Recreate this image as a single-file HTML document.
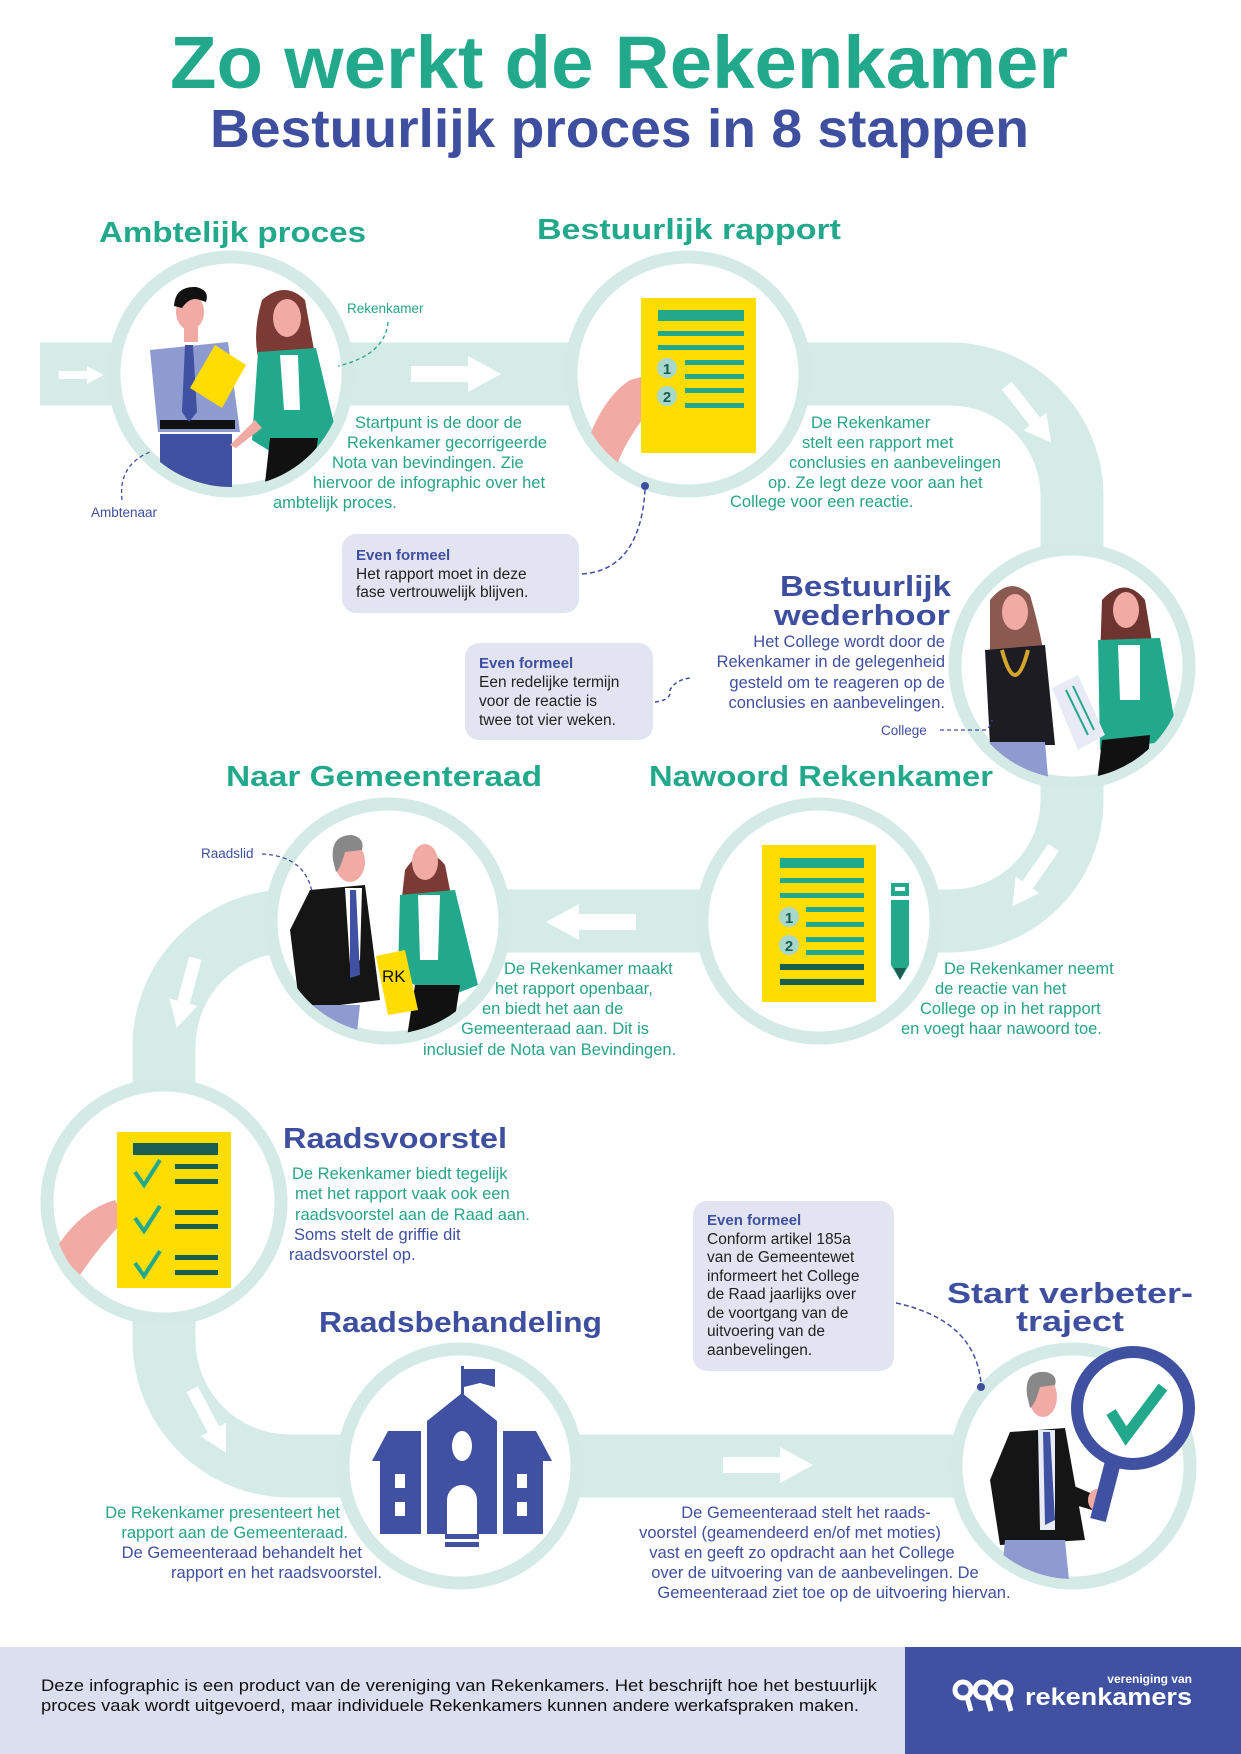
<!DOCTYPE html>
<html><head><meta charset="utf-8"><style>
html,body{margin:0;padding:0;background:#fff}
svg{display:block}
text{font-family:"Liberation Sans",sans-serif}
.h{font-weight:bold}
.t{fill:#27a387;font-size:16.5px}
.n{fill:#3f4f9f;font-size:16.5px}
.b{fill:#222;font-size:15.5px}
.ef{fill:#3f4f9f;font-size:15px;font-weight:bold}
.lbl{font-size:13.5px}
</style></head><body>
<svg width="1241" height="1754" viewBox="0 0 1241 1754" xmlns="http://www.w3.org/2000/svg">
<defs>
<clipPath id="c1"><circle cx="231" cy="374" r="113"/></clipPath>
<clipPath id="c3"><circle cx="1072" cy="666" r="113"/></clipPath>
<clipPath id="c5"><circle cx="388" cy="921" r="113"/></clipPath>
<clipPath id="c8"><circle cx="1073" cy="1466" r="113"/></clipPath>
<clipPath id="c2"><circle cx="688" cy="374" r="113"/></clipPath>
<clipPath id="c6"><circle cx="164" cy="1202" r="113"/></clipPath>
<path id="ar" d="M-45 -8 H12 V-18 L45 0 L12 18 V8 H-45 Z" fill="#fff"/>
</defs>

<text x="170" y="88" class="h" font-size="74" fill="#22a98c" textLength="898" lengthAdjust="spacingAndGlyphs">Zo werkt de Rekenkamer</text>
<text x="210" y="147" class="h" font-size="54" fill="#3f4f9f" textLength="819" lengthAdjust="spacingAndGlyphs">Bestuurlijk proces in 8 stappen</text>

<path d="M40 374 H950 A122 122 0 0 1 1072 496 V800 A121 121 0 0 1 951 921 H290 A126 126 0 0 0 164 1047 V1340 A126 126 0 0 0 290 1466 H1073" fill="none" stroke="#d5ebe6" stroke-width="63"/>

<use href="#ar" transform="translate(81 375) scale(0.5)"/>
<use href="#ar" transform="translate(456 374)"/>
<use href="#ar" transform="translate(1029 414) rotate(52) scale(0.8)"/>
<use href="#ar" transform="translate(1033 877) rotate(125) scale(0.8)"/>
<use href="#ar" transform="translate(591 922) rotate(180)"/>
<use href="#ar" transform="translate(186 993) rotate(105) scale(0.8)"/>
<use href="#ar" transform="translate(209 1421) rotate(62) scale(0.8)"/>
<use href="#ar" transform="translate(768 1465)"/>

<g fill="#fff" stroke="#d4ebe5" stroke-width="13">
<circle cx="231" cy="374" r="117"/>
<circle cx="688" cy="374" r="117"/>
<circle cx="1072" cy="666" r="117"/>
<circle cx="819" cy="921" r="117"/>
<circle cx="388" cy="921" r="117"/>
<circle cx="164" cy="1202" r="117"/>
<circle cx="460" cy="1466" r="117"/>
<circle cx="1073" cy="1466" r="117"/>
</g>

<g clip-path="url(#c1)">
<rect x="160" y="434" width="72" height="80" fill="#3f51a0"/>
<polygon points="150,350 228,342 240,432 158,432" fill="#8e9bd0"/>
<rect x="160" y="420" width="75" height="9" fill="#111"/>
<polygon points="185,345 193,345 197,412 189,422 182,412" fill="#3f51a0"/>
<rect x="184" y="322" width="14" height="20" fill="#f2aaa5"/>
<ellipse cx="190" cy="312" rx="14" ry="18" fill="#f2aaa5"/>
<path d="M174 306 Q175 286 196 287 Q210 290 206 302 L200 300 Q190 296 182 308 Z" fill="#111"/>
<polygon points="215,345 246,365 222,408 190,388" fill="#ffdd00"/>
<path d="M262 300 Q285 280 305 300 Q312 340 318 370 L262 370 Q250 340 262 300Z" fill="#7b3a34"/>
<ellipse cx="287" cy="318" rx="14" ry="19" fill="#f2aaa5"/>
<polygon points="258,352 316,348 338,440 300,470 252,440" fill="#22a98c"/>
<polygon points="280,355 298,355 300,410 284,410" fill="#fff"/>
<polygon points="270,438 318,438 308,510 262,510" fill="#111"/>
<path d="M255 420 L230 445 L236 448 L262 428Z" fill="#f2aaa5"/>
</g>

<g clip-path="url(#c2)">
<path d="M585 450 Q600 400 630 380 L660 372 L668 395 L650 410 Q625 440 615 470Z" fill="#f2aaa5"/>
</g>
<rect x="641" y="298" width="115" height="155" fill="#ffdd00"/>
<rect x="658" y="310" width="86" height="11" fill="#22a98c"/>
<rect x="658" y="331" width="86" height="5" fill="#22a98c"/>
<rect x="658" y="345" width="86" height="5" fill="#22a98c"/>
<rect x="685" y="360" width="59" height="5" fill="#22a98c"/>
<rect x="685" y="374" width="59" height="5" fill="#22a98c"/>
<rect x="685" y="388" width="59" height="5" fill="#22a98c"/>
<rect x="685" y="403" width="59" height="5" fill="#22a98c"/>
<circle cx="667" cy="368" r="10" fill="#a8d8cc"/><text x="667" y="374" font-size="15" text-anchor="middle" fill="#1a5e50" class="h">1</text>
<circle cx="667" cy="396" r="10" fill="#a8d8cc"/><text x="667" y="402" font-size="15" text-anchor="middle" fill="#1a5e50" class="h">2</text>

<g clip-path="url(#c3)">
<path d="M990 600 Q1010 575 1030 595 Q1040 630 1045 660 L990 660Z" fill="#8a5a50"/>
<ellipse cx="1015" cy="612" rx="13" ry="18" fill="#f2aaa5"/>
<polygon points="985,650 1045,645 1055,745 990,745" fill="#1c1c22"/>
<path d="M1002 650 Q1015 700 1028 650" fill="none" stroke="#d4a72c" stroke-width="4"/>
<polygon points="990,742 1045,742 1050,800 985,800" fill="#8e9bd0"/>
<path d="M1102 600 Q1125 575 1145 600 Q1150 630 1155 660 L1100 660Z" fill="#6e3530"/>
<ellipse cx="1126" cy="610" rx="13" ry="18" fill="#f2aaa5"/>
<polygon points="1098,640 1160,638 1178,740 1100,750" fill="#22a98c"/>
<polygon points="1118,645 1140,645 1140,700 1120,700" fill="#fff"/>
<polygon points="1102,740 1150,735 1145,800 1095,800" fill="#111"/>
<polygon points="1052,688 1078,675 1105,735 1078,750" fill="#e8eaf6"/>
<line x1="1066" y1="690" x2="1088" y2="735" stroke="#22a98c" stroke-width="2"/>
<line x1="1073" y1="686" x2="1094" y2="730" stroke="#22a98c" stroke-width="2"/>
</g>

<rect x="762" y="845" width="114" height="157" fill="#ffdd00"/>
<rect x="780" y="858" width="84" height="10" fill="#22a98c"/>
<rect x="780" y="878" width="84" height="5" fill="#22a98c"/>
<rect x="780" y="893" width="84" height="5" fill="#22a98c"/>
<rect x="806" y="907" width="58" height="5" fill="#22a98c"/>
<rect x="806" y="922" width="58" height="5" fill="#22a98c"/>
<rect x="806" y="937" width="58" height="5" fill="#22a98c"/>
<rect x="806" y="950" width="58" height="5" fill="#22a98c"/>
<rect x="780" y="964" width="84" height="6" fill="#1a5e50"/>
<rect x="780" y="979" width="84" height="6" fill="#1a5e50"/>
<circle cx="789" cy="917" r="10" fill="#a8d8cc"/><text x="789" y="923" font-size="15" text-anchor="middle" fill="#1a5e50" class="h">1</text>
<circle cx="789" cy="945" r="10" fill="#a8d8cc"/><text x="789" y="951" font-size="15" text-anchor="middle" fill="#1a5e50" class="h">2</text>
<rect x="891" y="883" width="18" height="13" fill="#22a98c"/><rect x="895" y="887" width="10" height="4" fill="#fff"/>
<polygon points="891,900 909,900 909,965 900,980 891,965" fill="#22a98c"/>
<polygon points="894,968 906,968 900,980" fill="#1a5e50"/>

<g clip-path="url(#c5)">
<ellipse cx="350" cy="862" rx="15" ry="20" fill="#f2aaa5"/>
<path d="M333 860 Q330 835 352 835 Q365 838 362 850 L345 852 Q340 870 336 872Z" fill="#888"/>
<polygon points="310,890 365,885 380,1000 300,1010 290,930" fill="#151515"/>
<polygon points="345,888 362,888 360,960 350,965" fill="#fff"/>
<polygon points="350,890 356,890 360,975 350,978" fill="#3f51a0"/>
<polygon points="312,1005 360,1005 355,1050 310,1050" fill="#8e9bd0"/>
<path d="M405 870 Q425 840 445 865 Q452 900 455 915 L400 915Z" fill="#7b3a34"/>
<ellipse cx="425" cy="862" rx="13" ry="18" fill="#f2aaa5"/>
<polygon points="400,895 455,890 478,985 440,1000 398,975" fill="#22a98c"/>
<polygon points="418,895 440,895 438,960 420,960" fill="#fff"/>
<polygon points="415,985 460,985 450,1050 405,1050" fill="#111"/>
<polygon points="376,956 405,950 418,1010 388,1015" fill="#ffdd00"/>
<text x="382" y="982" font-size="17" fill="#111">RK</text>
</g>

<g clip-path="url(#c6)">
<path d="M55 1250 Q80 1210 115 1200 L125 1220 Q100 1245 80 1275Z" fill="#f2aaa5"/>
</g>
<rect x="117" y="1132" width="114" height="156" fill="#ffdd00"/>
<rect x="133" y="1143" width="85" height="12" fill="#1a5e50"/>
<rect x="175" y="1164" width="43" height="5" fill="#1a5e50"/><rect x="175" y="1179" width="43" height="5" fill="#1a5e50"/>
<rect x="175" y="1210" width="43" height="5" fill="#1a5e50"/><rect x="175" y="1224" width="43" height="5" fill="#1a5e50"/>
<rect x="175" y="1255" width="43" height="5" fill="#1a5e50"/><rect x="175" y="1270" width="43" height="5" fill="#1a5e50"/>
<g fill="none" stroke="#22a98c" stroke-width="4">
<polyline points="135,1172 144,1185 160,1160"/>
<polyline points="135,1218 144,1231 160,1206"/>
<polyline points="135,1263 144,1276 160,1251"/>
</g>

<g fill="#3f51a0">
<rect x="461" y="1366" width="3" height="30"/>
<polygon points="464,1369 495,1369 495,1387 480,1383 464,1387"/>
<polygon points="462,1393 497,1421 427,1421"/>
<rect x="427" y="1421" width="70" height="113"/>
<polygon points="388,1431 421,1431 421,1461 372,1461"/>
<polygon points="503,1431 536,1431 552,1461 503,1461"/>
<rect x="380" y="1461" width="41" height="73"/>
<rect x="503" y="1461" width="40" height="73"/>
<rect x="445" y="1534" width="34" height="5"/><rect x="445" y="1542" width="34" height="5"/>
</g>
<g fill="#fff">
<ellipse cx="462" cy="1446" rx="10" ry="15"/>
<path d="M447 1534 V1500 A15 15 0 0 1 477 1500 V1534Z"/>
<rect x="395" y="1474" width="10" height="14"/><rect x="395" y="1502" width="10" height="14"/>
<rect x="517" y="1474" width="10" height="14"/><rect x="517" y="1502" width="10" height="14"/>
</g>

<g clip-path="url(#c8)">
<ellipse cx="1043" cy="1397" rx="14" ry="20" fill="#f2aaa5"/>
<path d="M1027 1395 Q1024 1370 1046 1372 Q1058 1375 1055 1385 L1040 1387 Q1035 1405 1030 1408Z" fill="#888"/>
<polygon points="1010,1432 1065,1428 1085,1540 1000,1545 990,1480" fill="#151515"/>
<polygon points="1038,1430 1055,1430 1055,1530 1040,1530" fill="#e8eaf6"/>
<polygon points="1043,1432 1050,1432 1055,1520 1045,1525" fill="#3f51a0"/>
<polygon points="1005,1540 1065,1540 1070,1590 1000,1590" fill="#8e9bd0"/>
<polygon points="1060,1480 1095,1495 1092,1510 1058,1500" fill="#151515"/>
<ellipse cx="1097" cy="1500" rx="9" ry="11" fill="#f2aaa5"/>
</g>
<circle cx="1133" cy="1408" r="56" fill="#fff" stroke="#3f51a0" stroke-width="12"/>
<line x1="1113" y1="1462" x2="1098" y2="1520" stroke="#3f51a0" stroke-width="16"/>
<polyline points="1111,1412 1126,1436 1163,1387" fill="none" stroke="#22a98c" stroke-width="11"/>

<g class="h" font-size="29">
<text x="99" y="242" fill="#22a98c" textLength="267" lengthAdjust="spacingAndGlyphs">Ambtelijk proces</text>
<text x="537" y="239" fill="#22a98c" textLength="304" lengthAdjust="spacingAndGlyphs">Bestuurlijk rapport</text>
<text x="780" y="596" fill="#3f4f9f" textLength="171" lengthAdjust="spacingAndGlyphs">Bestuurlijk</text>
<text x="774" y="625" fill="#3f4f9f" textLength="176" lengthAdjust="spacingAndGlyphs">wederhoor</text>
<text x="226" y="786" fill="#22a98c" textLength="316" lengthAdjust="spacingAndGlyphs">Naar Gemeenteraad</text>
<text x="649" y="786" fill="#22a98c" textLength="344" lengthAdjust="spacingAndGlyphs">Nawoord Rekenkamer</text>
<text x="283" y="1148" fill="#3f4f9f" textLength="224" lengthAdjust="spacingAndGlyphs">Raadsvoorstel</text>
<text x="319" y="1332" fill="#3f4f9f" textLength="283" lengthAdjust="spacingAndGlyphs">Raadsbehandeling</text>
<text x="947" y="1303" fill="#3f4f9f" textLength="246" lengthAdjust="spacingAndGlyphs">Start verbeter-</text>
<text x="1016" y="1331" fill="#3f4f9f" textLength="108" lengthAdjust="spacingAndGlyphs">traject</text>
</g>

<text x="347" y="313" class="lbl" fill="#27a387">Rekenkamer</text>
<path d="M388 322 Q385 355 338 366" fill="none" stroke="#27a387" stroke-width="1.3" stroke-dasharray="4 3"/>
<text x="91" y="517" class="lbl" fill="#3f4f9f">Ambtenaar</text>
<path d="M122 500 Q118 465 150 452" fill="none" stroke="#3f4f9f" stroke-width="1.3" stroke-dasharray="4 3"/>
<text x="881" y="735" class="lbl" fill="#3f4f9f">College</text>
<path d="M940 730 L985 730 Q990 728 992 720" fill="none" stroke="#3f4f9f" stroke-width="1.3" stroke-dasharray="4 3"/>
<text x="201" y="858" class="lbl" fill="#3f4f9f">Raadslid</text>
<path d="M262 854 Q305 856 312 892" fill="none" stroke="#3f4f9f" stroke-width="1.3" stroke-dasharray="4 3"/>

<text class="t" x="355" y="428">Startpunt is de door de</text>
<text class="t" x="347" y="448">Rekenkamer gecorrigeerde</text>
<text class="t" x="332" y="468">Nota van bevindingen. Zie</text>
<text class="t" x="313" y="488">hiervoor de infographic over het</text>
<text class="t" x="273" y="508">ambtelijk proces.</text>
<text class="t" x="811" y="428">De Rekenkamer</text>
<text class="t" x="802" y="448">stelt een rapport met</text>
<text class="t" x="789" y="468">conclusies en aanbevelingen</text>
<text class="t" x="768" y="488">op. Ze legt deze voor aan het</text>
<text class="t" x="730" y="507">College voor een reactie.</text>

<rect x="342" y="534" width="237" height="79" rx="14" fill="#e2e4f1"/>
<text class="ef" x="356" y="560">Even formeel</text>
<text class="b" x="356" y="579">Het rapport moet in deze</text>
<text class="b" x="356" y="597">fase vertrouwelijk blijven.</text>
<path d="M582 574 Q640 570 645 490" fill="none" stroke="#3f4f9f" stroke-width="1.5" stroke-dasharray="5 3"/>
<circle cx="645" cy="486" r="4" fill="#3f4f9f"/>

<g text-anchor="end">
<text class="n" x="945" y="647">Het College wordt door de</text>
<text class="n" x="945" y="667">Rekenkamer in de gelegenheid</text>
<text class="n" x="945" y="688">gesteld om te reageren op de</text>
<text class="n" x="945" y="708">conclusies en aanbevelingen.</text>
</g>
<rect x="465" y="643" width="188" height="97" rx="14" fill="#e2e4f1"/>
<text class="ef" x="479" y="668">Even formeel</text>
<text class="b" x="479" y="687">Een redelijke termijn</text>
<text class="b" x="479" y="706">voor de reactie is</text>
<text class="b" x="479" y="725">twee tot vier weken.</text>
<path d="M655 702 Q672 700 670 690 Q675 680 690 678" fill="none" stroke="#3f4f9f" stroke-width="1.5" stroke-dasharray="4 3"/>

<text class="t" x="504" y="974">De Rekenkamer maakt</text>
<text class="t" x="495" y="994">het rapport openbaar,</text>
<text class="t" x="482" y="1014">en biedt het aan de</text>
<text class="t" x="461" y="1034">Gemeenteraad aan. Dit is</text>
<text class="t" x="423" y="1055">inclusief de Nota van Bevindingen.</text>
<text class="t" x="944" y="974">De Rekenkamer neemt</text>
<text class="t" x="935" y="994">de reactie van het</text>
<text class="t" x="920" y="1014">College op in het rapport</text>
<text class="t" x="901" y="1034">en voegt haar nawoord toe.</text>

<text class="t" x="292" y="1179">De Rekenkamer biedt tegelijk</text>
<text class="t" x="295" y="1199">met het rapport vaak ook een</text>
<text class="t" x="295" y="1220">raadsvoorstel aan de Raad aan.</text>
<text class="n" x="294" y="1240">Soms stelt de griffie dit</text>
<text class="n" x="289" y="1260">raadsvoorstel op.</text>

<rect x="693" y="1201" width="201" height="170" rx="14" fill="#e2e4f1"/>
<text class="ef" x="707" y="1225">Even formeel</text>
<text class="b" x="707" y="1244">Conform artikel 185a</text>
<text class="b" x="707" y="1262">van de Gemeentewet</text>
<text class="b" x="707" y="1281">informeert het College</text>
<text class="b" x="707" y="1299">de Raad jaarlijks over</text>
<text class="b" x="707" y="1318">de voortgang van de</text>
<text class="b" x="707" y="1336">uitvoering van de</text>
<text class="b" x="707" y="1355">aanbevelingen.</text>
<path d="M896 1303 Q975 1320 981 1383" fill="none" stroke="#3f4f9f" stroke-width="1.5" stroke-dasharray="5 3"/>
<circle cx="981" cy="1387" r="4" fill="#3f4f9f"/>

<g text-anchor="end">
<text class="t" x="340" y="1518">De Rekenkamer presenteert het</text>
<text class="t" x="348" y="1538">rapport aan de Gemeenteraad.</text>
<text class="n" x="362" y="1558">De Gemeenteraad behandelt het</text>
<text class="n" x="382" y="1578">rapport en het raadsvoorstel.</text>
</g>
<g text-anchor="middle">
<text class="n" x="806" y="1518">De Gemeenteraad stelt het raads-</text>
<text class="n" x="790" y="1538">voorstel (geamendeerd en/of met moties)</text>
<text class="n" x="802" y="1558">vast en geeft zo opdracht aan het College</text>
<text class="n" x="815" y="1578">over de uitvoering van de aanbevelingen. De</text>
<text class="n" x="834" y="1598">Gemeenteraad ziet toe op de uitvoering hiervan.</text>
</g>

<rect x="0" y="1647" width="905" height="107" fill="#dcdff0"/>
<rect x="905" y="1647" width="336" height="107" fill="#3f51a0"/>
<text x="41" y="1691" font-size="16.5" fill="#111" textLength="836" lengthAdjust="spacingAndGlyphs">Deze infographic is een product van de vereniging van Rekenkamers. Het beschrijft hoe het bestuurlijk</text>
<text x="41" y="1711" font-size="16.5" fill="#111" textLength="818" lengthAdjust="spacingAndGlyphs">proces vaak wordt uitgevoerd, maar individuele Rekenkamers kunnen andere werkafspraken maken.</text>
<g fill="none" stroke="#fff" stroke-width="5">
<circle cx="963" cy="1690" r="8"/><circle cx="983" cy="1690" r="8"/><circle cx="1003" cy="1690" r="8"/>
<line x1="967" y1="1697" x2="971" y2="1711"/><line x1="987" y1="1697" x2="991" y2="1711"/><line x1="1007" y1="1697" x2="1011" y2="1711"/>
</g>
<text x="1192" y="1683" font-size="12" fill="#fff" text-anchor="end" class="h">vereniging van</text>
<text x="1025" y="1705" font-size="24" fill="#fff" class="h" textLength="167" lengthAdjust="spacingAndGlyphs">rekenkamers</text>
</svg>
</body></html>
